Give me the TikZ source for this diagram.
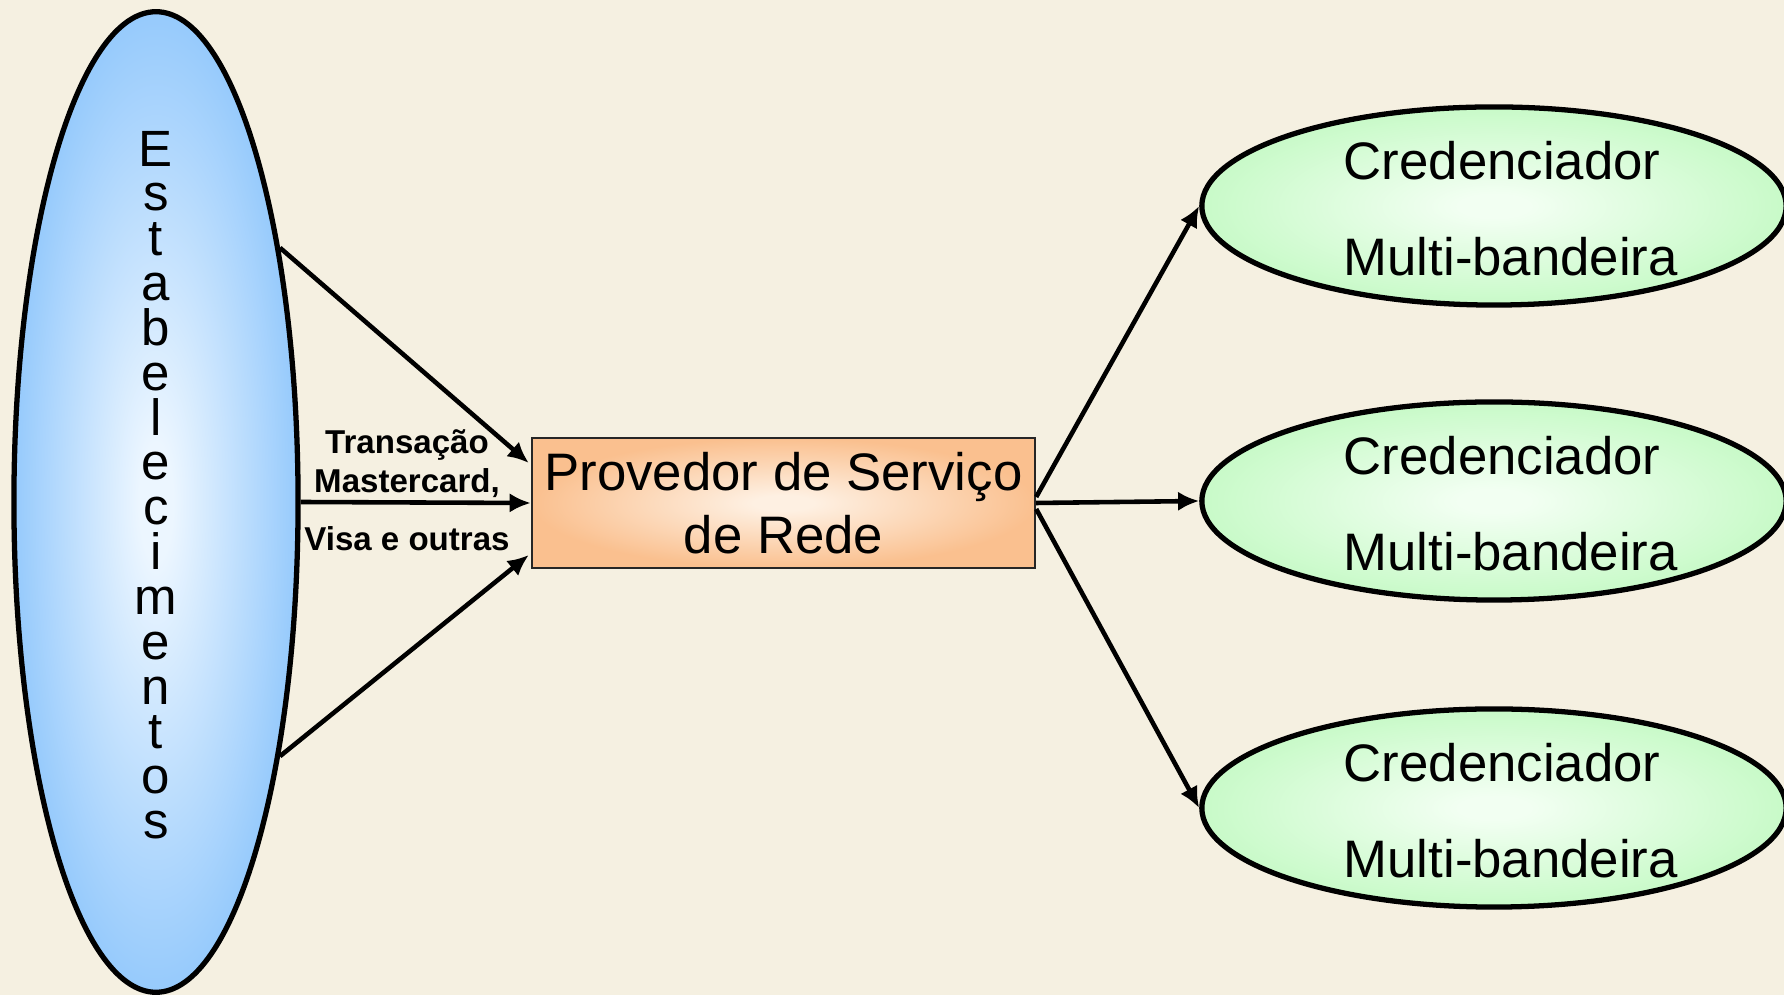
\documentclass[tikz,border=0pt]{standalone}
\usepackage{fontspec}
\setmainfont{Liberation Sans}
\usetikzlibrary{shapes.geometric,arrows.meta,calc}
\definecolor{bgc}{RGB}{245,240,225}
\definecolor{bluein}{RGB}{236,246,255}
\definecolor{blueout}{RGB}{150,202,252}
\definecolor{greenin}{RGB}{242,255,242}
\definecolor{greenout}{RGB}{200,250,200}
\definecolor{peachin}{RGB}{254,240,226}
\definecolor{peachout}{RGB}{250,192,143}
\pgfdeclareradialshading{bluesh}{\pgfpoint{0bp}{0bp}}{color(0bp)=(bluein); color(3bp)=(bluein); color(25bp)=(blueout); color(50bp)=(blueout)}
\pgfdeclareradialshading{greensh}{\pgfpoint{0bp}{0bp}}{color(0bp)=(greenin); color(3bp)=(greenin); color(25bp)=(greenout); color(50bp)=(greenout)}
\pgfdeclareradialshading{peachsh}{\pgfpoint{0bp}{0bp}}{color(0bp)=(peachin); color(3bp)=(peachin); color(25bp)=(peachout); color(50bp)=(peachout)}
\tikzset{
  estell/.style={ellipse, draw=black, line width=1.5pt, shading=bluesh, inner sep=0pt,
    minimum width=2.84cm, minimum height=9.8cm},
  credell/.style={ellipse, draw=black, line width=1.5pt, shading=greensh, inner sep=0pt,
    minimum width=5.84cm, minimum height=1.98cm},
  provbox/.style={rectangle, draw=black!85, line width=0.6pt, shading=peachsh, inner sep=0pt,
    minimum width=5.03cm, minimum height=1.30cm, align=center,
    font=\fontsize{15pt}{17.9pt}\selectfont},
  credtxt/.style={anchor=west, inner sep=0pt, align=left, font=\fontsize{15pt}{27.3pt}\selectfont},
  vtxt/.style={inner sep=0pt, align=center, font=\fontsize{14.5pt}{12.75pt}\selectfont},
  smalltxt/.style={anchor=base, inner sep=0pt, font=\fontsize{9.4pt}{11pt}\selectfont\bfseries},
  arr/.style={draw=black, line width=1.3pt, -{Latex[length=6pt,width=5.5pt]}}
}
\begin{document}
\begin{tikzpicture}[x=0.01cm,y=-0.01cm]
\fill[bgc] (0,0) rectangle (1784,995);
\useasboundingbox (0,0) rectangle (1784,995);

\node[estell] (est) at (156,502) {};
\node[vtxt] (estlbl) at (156,485) {E\\s\\t\\a\\b\\e\\l\\e\\c\\i\\m\\e\\n\\t\\o\\s};

\node[provbox] (box) at (783.5,503) {Provedor de Serviço\\de Rede};

\node[credell] (c1) at (1494,206) {};
\node[credell] (c2) at (1494,501) {};
\node[credell] (c3) at (1494,808) {};
\node[credtxt] (c1t) at (1343,209) {Credenciador\\Multi-bandeira};
\node[credtxt] (c2t) at (1343,504) {Credenciador\\Multi-bandeira};
\node[credtxt] (c3t) at (1343,811) {Credenciador\\Multi-bandeira};

\node[smalltxt] (l1) at (407,454) {Transação};
\node[smalltxt] (l2) at (407,493) {Mastercard,};
\node[smalltxt] (l3) at (407,551) {Visa e outras};

\draw[arr] (est.64) -- ($(box.west)+(-2,-40)$);
\draw[arr] (est.east) -- (box.west);
\draw[arr] (est.-64) -- ($(box.west)+(-2,52)$);

\draw[arr] ($(box.east)+(0,-6)$) -- (c1.west);
\draw[arr] (box.east) -- (c2.west);
\draw[arr] ($(box.east)+(0,6)$) -- (c3.west);
\end{tikzpicture}
\end{document}
